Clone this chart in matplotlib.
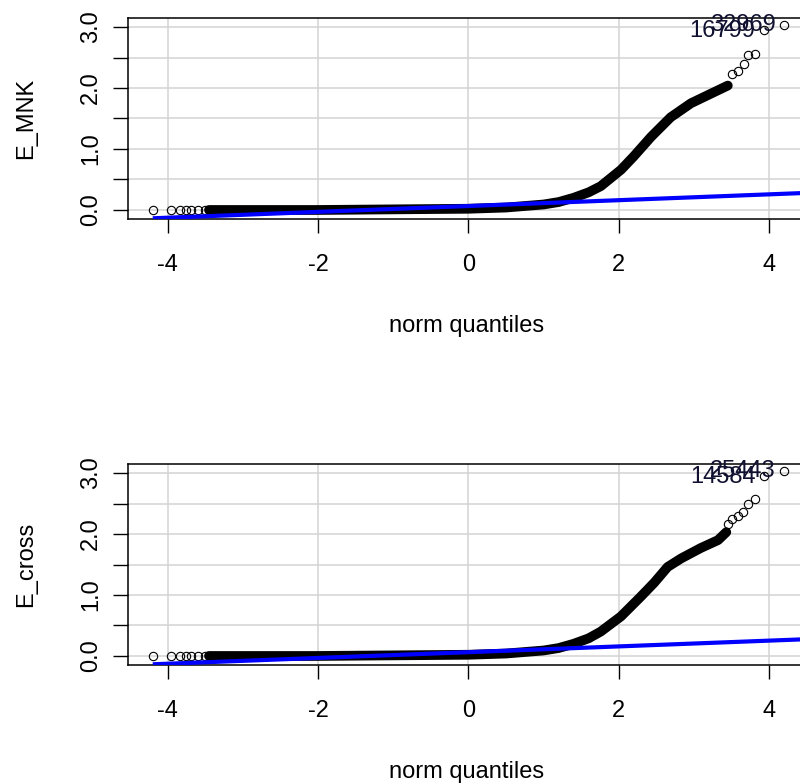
import matplotlib
matplotlib.use("Agg")
import matplotlib.pyplot as plt

plt.rcParams['font.family'] = ['Liberation Sans', 'DejaVu Sans']
plt.rcParams['axes.unicode_minus'] = False

# qq plot values (theoretical quantile, sample value)
# dense part of the point cloud
mnk_q = [-3.45, -2.5, -2.0, -1.5, -1.0, -0.5, 0.0, 0.5, 1.0, 1.2, 1.4, 1.6, 1.76, 2.03, 2.2, 2.43, 2.69, 2.96, 3.23, 3.45]
mnk_v = [0.0, 0.0, 0.0, 0.005, 0.01, 0.015, 0.02, 0.04, 0.09, 0.13, 0.2, 0.29, 0.39, 0.66, 0.88, 1.2, 1.52, 1.75, 1.91, 2.04]
# single points in the tails
mnk_tail_q = [-4.2, -3.95, -3.84, -3.76, -3.69, -3.59, -3.5, 3.51, 3.58, 3.67, 3.72, 3.81, 3.93, 4.2]
mnk_tail_v = [0.0, 0.0, 0.0, 0.0, 0.0, 0.0, 0.0, 2.23, 2.28, 2.39, 2.54, 2.56, 2.95, 3.03]
mnk_ids = ["16799", "32969"]
mnk_id_q = [3.93, 4.2]
mnk_id_v = [2.93, 3.03]
mnk_line_q = [-4.17, 4.6]
mnk_line_v = [-0.135, 0.285]

cross_q = [-3.45, -2.5, -2.0, -1.5, -1.0, -0.5, 0.0, 0.5, 1.0, 1.2, 1.4, 1.6, 1.76, 2.03, 2.29, 2.47, 2.65, 2.83, 3.09, 3.32, 3.43]
cross_v = [0.0, 0.0, 0.0, 0.005, 0.01, 0.015, 0.02, 0.04, 0.09, 0.13, 0.2, 0.29, 0.40, 0.65, 0.97, 1.2, 1.46, 1.6, 1.77, 1.9, 2.03]
cross_tail_q = [-4.2, -3.95, -3.84, -3.76, -3.69, -3.59, -3.5, 3.45, 3.51, 3.58, 3.65, 3.72, 3.81, 3.93, 4.2]
cross_tail_v = [0.0, 0.0, 0.0, 0.0, 0.0, 0.0, 0.0, 2.17, 2.25, 2.3, 2.36, 2.49, 2.58, 2.95, 3.03]
cross_ids = ["14584", "25443"]
cross_id_q = [3.93, 4.2]
cross_id_v = [2.93, 3.03]
cross_line_q = [-4.17, 4.6]
cross_line_v = [-0.135, 0.28]

x_ticks = [-4, -2, 0, 2, 4]
y_ticks = [0.0, 0.5, 1.0, 1.5, 2.0, 2.5, 3.0]
y_labels = ["0.0", "", "1.0", "", "2.0", "", "3.0"]

FS = 17

fig = plt.figure(figsize=(8, 7.83), dpi=100)


def qq_panel(top_px, q, v, tail_q, tail_v, ids, id_q, id_v, line_q, line_v, ylab):
    W, H = 800, 783
    ax = fig.add_axes([128 / W, 1 - (top_px + 201) / H, 678 / W, 201 / H])
    ax.set_xlim(-4.527, 4.49)
    ax.set_ylim(-0.148, 3.148)
    ax.set_xticks(x_ticks)
    ax.set_yticks(y_ticks)
    ax.set_yticklabels(y_labels)
    ax.grid(True, color='#d3d3d3', lw=1.1)
    ax.set_axisbelow(True)
    for s in ax.spines.values():
        s.set_linewidth(1.1)
    ax.tick_params(axis='x', length=10, width=1.0, labelsize=FS, pad=15)
    ax.tick_params(axis='y', length=10.5, width=1.0, labelsize=FS, pad=8, labelrotation=90)
    for lab in ax.get_yticklabels():
        lab.set_va('center')

    ax.plot(q, v, color='black', lw=7, solid_capstyle='round', solid_joinstyle='round', zorder=3)
    ax.plot(tail_q, tail_v, 'o', mfc='none', mec='black', ms=6, mew=0.8, zorder=3)
    ax.plot(line_q, line_v, color='#0000ff', lw=3, zorder=4)
    for t, xq, yv in zip(ids, id_q, id_v):
        ax.annotate(t, (xq, yv), xytext=(-6, 0), textcoords='offset points',
                    ha='right', va='center', fontsize=FS, color='#101030', zorder=5)

    ax.text(0.5, -0.562, "norm quantiles", transform=ax.transAxes,
            ha='center', va='baseline', fontsize=FS)
    ax.text(-0.1504, 0.5, ylab, transform=ax.transAxes, rotation=90,
            ha='center', va='center', fontsize=FS)
    return ax


qq_panel(18, mnk_q, mnk_v, mnk_tail_q, mnk_tail_v, mnk_ids, mnk_id_q, mnk_id_v,
         mnk_line_q, mnk_line_v, "E_MNK")
qq_panel(464, cross_q, cross_v, cross_tail_q, cross_tail_v, cross_ids, cross_id_q, cross_id_v,
         cross_line_q, cross_line_v, "E_cross")

fig.savefig("out.png", dpi=100)
